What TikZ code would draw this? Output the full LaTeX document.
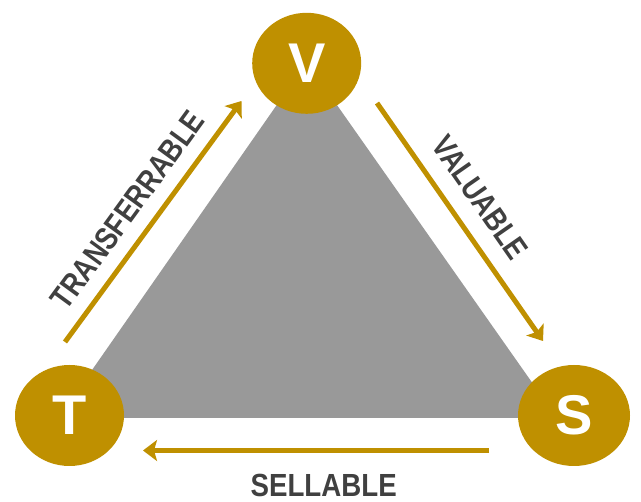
\documentclass[tikz,border=0pt]{standalone}
\usepackage{fontspec}
\setmainfont{Liberation Sans}
\newfontfamily\narrowfont[FakeStretch=0.83]{Liberation Sans}
\newfontfamily\sellfont[FakeStretch=0.865]{Liberation Sans}
\usetikzlibrary{arrows.meta,shapes.geometric}
\definecolor{gold}{HTML}{BF9000}
\definecolor{tri}{HTML}{999999}
\definecolor{lbl}{HTML}{404040}
\begin{document}
\begin{tikzpicture}[x=1pt,y=-1pt,
  vertexnode/.style={ellipse,fill=gold,inner sep=0pt,minimum width=109pt,minimum height=101pt,
    text=white,font=\fontsize{56}{60}\selectfont\bfseries},
  sidearrow/.style={draw=gold,line width=5pt,-{Stealth[length=14pt,width=21pt,inset=3pt]}},
  sidelabel/.style={text=lbl,inner sep=0pt,text depth=0pt,font=\narrowfont\fontsize{32}{36}\selectfont\bfseries}]
\useasboundingbox (0,0) rectangle (641,502);
% triangle
\fill[tri] (306.7,62) -- (58.6,418) -- (557,418) -- cycle;
% vertices
\node[vertexnode] (V) at (306.7,63.3) {V};
\node[vertexnode] (T) at (69.5,415.5) {T};
\node[vertexnode,minimum width=112pt] (S) at (574,415.5) {S};
% arrow end points
\coordinate (tA) at (65,342);
\coordinate (tB) at (241.5,101);
\coordinate (vA) at (377,103);
\coordinate (vB) at (543,341);
\coordinate (sA) at (489,450.5);
\coordinate (sB) at (143,450.5);
\draw[sidearrow] (tA) -- (tB);
\draw[sidearrow] (vA) -- (vB);
\draw[sidearrow] (sA) -- (sB);
% labels
\node[sidelabel,rotate=53.9] (lt) at (127.5,210) {TRANSFERRABLE};
\node[sidelabel,rotate=-55.1] (lv) at (480,197.5) {VALUABLE};
\node[sidelabel,anchor=base,font=\sellfont\fontsize{32}{36}\selectfont\bfseries] (ls) at (323.7,496.5) {SELLABLE};
\end{tikzpicture}
\end{document}
